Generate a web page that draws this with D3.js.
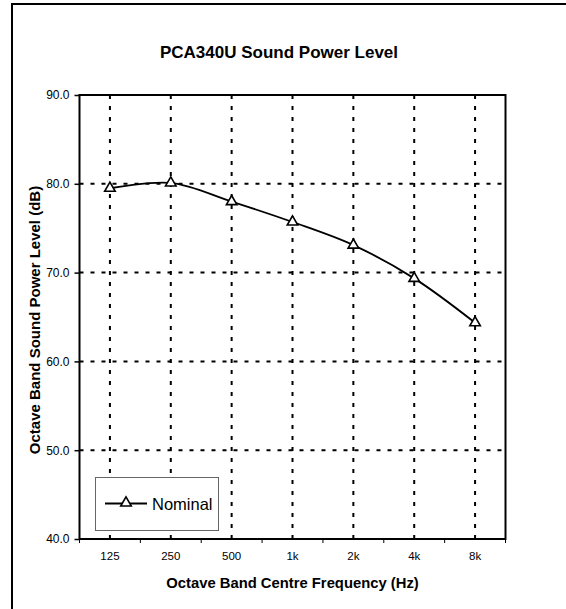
<!DOCTYPE html>
<html>
<head>
<meta charset="utf-8">
<script src="https://cdn.jsdelivr.net/npm/d3@7"></script>
<style>
  body { margin: 0; background: #fff; }
  text { font-family: "Liberation Sans", Arial, sans-serif; fill: #000; }
</style>
</head>
<body>
<div id="chart"></div>
<script>
// chart data
var bands = ["125", "250", "500", "1k", "2k", "4k", "8k"];
var nominal = [79.5, 80.1, 78.0, 75.7, 73.1, 69.35, 64.35];
var yTicks = [40, 50, 60, 70, 80, 90];
var seriesName = "Nominal";

var width = 566, height = 609;
// plot area edges (window.top is reserved, so use own names)
var plotL = 79.5, plotR = 505.5, plotT = 95, plotB = 539;

var svg = d3.select("#chart").append("svg")
    .attr("width", width)
    .attr("height", height);

// outer chart border (runs off the page at right and bottom)
svg.append("rect")
    .attr("x", 12).attr("y", 4)
    .attr("width", 700).attr("height", 700)
    .attr("fill", "#fff")
    .attr("stroke", "#000")
    .attr("stroke-width", 2);

var x = d3.scaleBand().domain(bands).range([plotL, plotR]);
var y = d3.scaleLinear().domain([40, 90]).range([plotB, plotT]);
var cx = function(d) { return x(d) + x.bandwidth() / 2; };

// grid
var grid = svg.append("g");
grid.selectAll(".hg").data(yTicks.slice(1, -1)).enter().append("line")
    .attr("x1", plotL).attr("x2", plotR)
    .attr("y1", function(d) { return y(d); })
    .attr("y2", function(d) { return y(d); })
    .attr("stroke", "#000").attr("stroke-width", 2)
    .attr("stroke-dasharray", "4,7");
grid.selectAll(".vg").data(bands).enter().append("line")
    .attr("x1", cx).attr("x2", cx)
    .attr("y1", plotT).attr("y2", plotB)
    .attr("stroke", "#000").attr("stroke-width", 2)
    .attr("stroke-dasharray", "4,7");

// plot frame
svg.append("rect")
    .attr("x", plotL).attr("y", plotT)
    .attr("width", plotR - plotL).attr("height", plotB - plotT)
    .attr("fill", "none")
    .attr("stroke", "#000").attr("stroke-width", 2);

// y axis
var yAxis = svg.append("g")
    .attr("transform", "translate(" + plotL + ",0)")
    .call(d3.axisLeft(y).tickValues(yTicks).tickFormat(d3.format(".1f")).tickSize(5).tickPadding(5));
yAxis.select(".domain").remove();
yAxis.selectAll("line").attr("stroke", "#000").attr("stroke-width", 1.5);
yAxis.selectAll("text").style("font-size", "12px").style("font-family", "Liberation Sans, Arial, sans-serif");

// x axis: labels at band centres, ticks at band edges
var xAxis = svg.append("g")
    .attr("transform", "translate(0," + plotB + ")")
    .call(d3.axisBottom(x).tickSize(0).tickPadding(13));
xAxis.select(".domain").remove();
xAxis.selectAll("text").style("font-size", "11.5px").style("font-family", "Liberation Sans, Arial, sans-serif");

var edges = bands.map(function(d) { return x(d); }).concat([x(bands[bands.length - 1]) + x.bandwidth()]);
svg.append("g").selectAll("line").data(edges).enter().append("line")
    .attr("x1", function(d) { return d; }).attr("x2", function(d) { return d; })
    .attr("y1", plotB).attr("y2", plotB + 4)
    .attr("stroke", "#000").attr("stroke-width", 1);

// smoothed series line
var line = d3.line()
    .x(function(d, i) { return cx(bands[i]); })
    .y(function(d) { return y(d); })
    .curve(d3.curveCatmullRom.alpha(0.5));

svg.append("path")
    .datum(nominal)
    .attr("d", line)
    .attr("fill", "none")
    .attr("stroke", "#000")
    .attr("stroke-width", 1.8);

var tri = d3.symbol().type(d3.symbolTriangle).size(48);
svg.selectAll(".pt").data(nominal).enter().append("path")
    .attr("d", tri)
    .attr("transform", function(d, i) { return "translate(" + cx(bands[i]) + "," + y(d) + ")"; })
    .attr("fill", "#fff")
    .attr("stroke", "#000")
    .attr("stroke-width", 1.6);

// titles
svg.append("text")
    .attr("x", 279).attr("y", 58)
    .attr("text-anchor", "middle")
    .style("font-size", "17px").style("font-weight", "bold")
    .text("PCA340U Sound Power Level");

svg.append("text")
    .attr("x", (plotL + plotR) / 2).attr("y", 588)
    .attr("text-anchor", "middle")
    .style("font-size", "14.8px").style("font-weight", "bold")
    .text("Octave Band Centre Frequency (Hz)");

svg.append("text")
    .attr("transform", "translate(39.5," + ((plotT + plotB) / 2 + 3) + ") rotate(-90)")
    .attr("text-anchor", "middle")
    .style("font-size", "15px").style("font-weight", "bold")
    .text("Octave Band Sound Power Level (dB)");

// legend
var lg = svg.append("g");
lg.append("rect")
    .attr("x", 95.5).attr("y", 477.5)
    .attr("width", 123).attr("height", 53)
    .attr("fill", "#fff")
    .attr("stroke", "#666").attr("stroke-width", 1);
lg.append("line")
    .attr("x1", 105).attr("x2", 147)
    .attr("y1", 503.5).attr("y2", 503.5)
    .attr("stroke", "#000").attr("stroke-width", 1.8);
lg.append("path")
    .attr("d", tri)
    .attr("transform", "translate(126,503)")
    .attr("fill", "#fff").attr("stroke", "#000").attr("stroke-width", 1.6);
lg.append("text")
    .attr("x", 152).attr("y", 510)
    .style("font-size", "16.5px")
    .text(seriesName);
</script>
</body>
</html>
